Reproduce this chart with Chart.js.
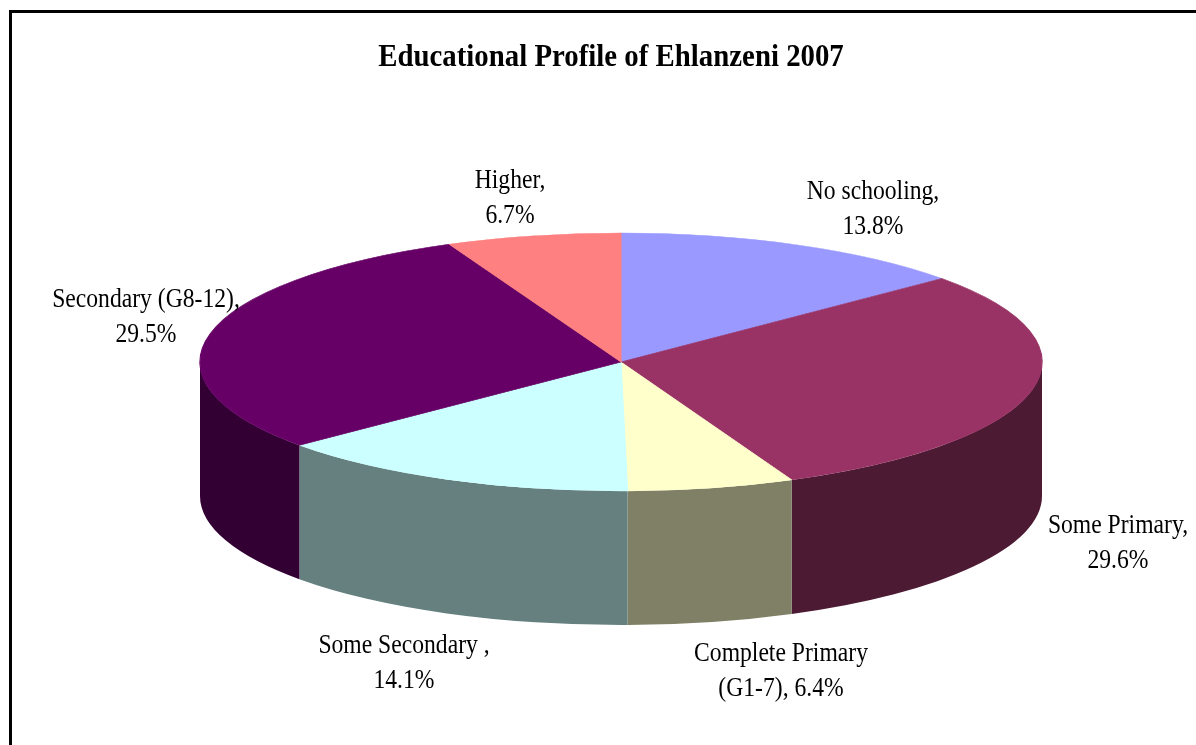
<!DOCTYPE html>
<html>
<head>
<meta charset="utf-8">
<title>Educational Profile of Ehlanzeni 2007</title>
<script src="https://cdn.jsdelivr.net/npm/chart.js@4"></script>
<style>
    html, body { margin: 0; padding: 0; background: #fff; overflow: hidden; }
    #wrap { position: relative; width: 1196px; height: 745px; overflow: hidden; }
    #frame { position: absolute; left: 9px; top: 10px; width: 1400px; height: 1000px; border: 3px solid #000; }
    canvas { position: absolute; left: 0; top: 0; }
</style>
</head>
<body>
<div id="wrap">
    <div id="frame"></div>
    <canvas id="pieChart" width="1196" height="745"></canvas>
</div>
<script>
var chartTitle = 'Educational Profile of Ehlanzeni 2007';
var categories = ['No schooling', 'Some Primary', 'Complete Primary (G1-7)', 'Some Secondary', 'Secondary (G8-12)', 'Higher'];
var shares = [13.8, 29.6, 6.4, 14.1, 29.5, 6.7];
var topColors = ['#9999ff', '#993366', '#ffffcc', '#ccffff', '#660066', '#ff8080'];
var sideColors = ['#4d4d80', '#4d1a33', '#808066', '#668080', '#330033', '#804040'];

//data label text, two lines each, same order as categories
var labelLines = [
    ['No schooling,', '13.8%'],
    ['Some Primary,', '29.6%'],
    ['Complete Primary', '(G1-7), 6.4%'],
    ['Some Secondary ,', '14.1%'],
    ['Secondary (G8-12),', '29.5%'],
    ['Higher,', '6.7%']
];
//center x and first baseline of each label
var labelX = [873, 1118, 781, 404, 146, 510];
var labelY = [199, 533, 661, 653, 307, 188];

//where the tilted pie goes on the page
var pieX = 621, pieY = 362, pieRx = 421, pieRy = 129, pieDepth = 134;

function drawText(ctx, text, x, y, font, squeeze) {
    ctx.save();
    ctx.font = font;
    ctx.fillStyle = '#000';
    ctx.textAlign = 'center';
    ctx.textBaseline = 'alphabetic';
    ctx.translate(x, y);
    ctx.scale(squeeze, 1);
    ctx.fillText(text, 0, 0);
    ctx.restore();
}

//squash the pie into an ellipse, the wall is only the front half of each slice
var tiltedPie = {
    id: 'tiltedPie',
    beforeDatasetsDraw: function(chart) {
        var ctx = chart.ctx;
        var arcs = chart.getDatasetMeta(0).data;
        arcs.forEach(function(arc, i) {
            var from = Math.max(arc.startAngle, 0);
            var to = Math.min(arc.endAngle, Math.PI);
            if (to <= from) return;
            ctx.fillStyle = sideColors[i];
            ctx.beginPath();
            ctx.ellipse(pieX, pieY, pieRx, pieRy, 0, from, to);
            ctx.ellipse(pieX, pieY + pieDepth, pieRx, pieRy, 0, to, from, true);
            ctx.closePath();
            ctx.fill();
        });
        var scale = 1 / arcs[0].outerRadius;
        ctx.save();
        ctx.translate(pieX, pieY);
        ctx.scale(pieRx * scale, pieRy * scale);
        ctx.translate(-arcs[0].x, -arcs[0].y);
    },
    afterDatasetsDraw: function(chart) {
        chart.ctx.restore();
    },
    afterDraw: function(chart) {
        var ctx = chart.ctx;
        drawText(ctx, chartTitle, 611, 66, 'bold 31px "Liberation Serif"', 0.93);
        labelLines.forEach(function(lines, i) {
            drawText(ctx, lines[0], labelX[i], labelY[i], '27px "Liberation Serif"', 0.875);
            drawText(ctx, lines[1], labelX[i], labelY[i] + 34.5, '27px "Liberation Serif"', 0.875);
        });
    }
};

var chart = new Chart(document.getElementById('pieChart').getContext('2d'), {
    type: 'pie',
    data: {
        labels: categories,
        datasets: [{
            data: shares,
            backgroundColor: topColors,
            borderColor: topColors,
            borderWidth: 1
        }]
    },
    options: {
        responsive: false,
        animation: false,
        plugins: {
            legend: { display: false },
            tooltip: { enabled: false },
            title: { display: false }
        }
    },
    plugins: [tiltedPie]
});
</script>
</body>
</html>
